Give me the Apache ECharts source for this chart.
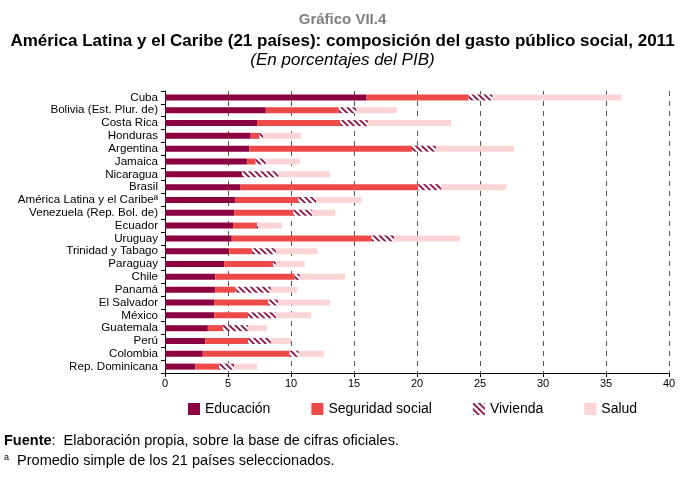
<!DOCTYPE html>
<html>
<head>
<meta charset="utf-8">
<script src="https://cdn.jsdelivr.net/npm/echarts@6/dist/echarts.min.js"></script>
<style>
  html, body { margin: 0; padding: 0; background: #fff; }
  #chart { width: 685px; height: 479px; }
</style>
</head>
<body>
<div id="chart"></div>
<script>
// datos (porcentajes del PIB)
const categories = ['Cuba', 'Bolivia (Est. Plur. de)', 'Costa Rica', 'Honduras', 'Argentina', 'Jamaica',
    'Nicaragua', 'Brasil', 'América Latina y el Caribeª', 'Venezuela (Rep. Bol. de)', 'Ecuador', 'Uruguay',
    'Trinidad y Tabago', 'Paraguay', 'Chile', 'Panamá', 'El Salvador', 'México', 'Guatemala', 'Perú',
    'Colombia', 'Rep. Dominicana'];
const educacion = [16.0, 8.0, 7.3, 6.8, 6.7, 6.5, 6.1, 6.0, 5.6, 5.5, 5.4, 5.3, 5.1, 4.7, 4.0, 4.0, 3.9, 3.9, 3.4, 3.2, 3.0, 2.4];
const seguridad = [8.1, 5.8, 6.6, 0.7, 12.9, 0.7, 0.0, 14.1, 5.0, 4.7, 1.9, 11.1, 1.8, 3.9, 6.3, 1.6, 4.3, 2.7, 1.2, 3.4, 6.9, 1.9];
const vivienda = [1.9, 1.4, 2.2, 0.3, 1.9, 0.8, 2.9, 1.8, 1.4, 1.5, 0.1, 1.8, 1.9, 0.2, 0.4, 2.8, 0.8, 2.2, 2.0, 1.8, 0.7, 1.2];
const salud = [10.2, 3.2, 6.6, 3.0, 6.2, 2.7, 4.1, 5.2, 3.6, 1.8, 1.9, 5.2, 3.3, 2.3, 3.6, 2.1, 4.1, 2.8, 1.5, 1.6, 2.0, 1.8];
const xTicks = [0, 5, 10, 15, 20, 25, 30, 35, 40];

const colEdu = '#8a0041';
const colSeg = '#ef4a4a';
const colSal = '#fcd4d4';

// trama diagonal para vivienda
function hatch() {
    const c = document.createElement('canvas');
    c.width = 6;
    c.height = 6;
    const ctx = c.getContext('2d');
    ctx.fillStyle = '#fff';
    ctx.fillRect(0, 0, 6, 6);
    ctx.strokeStyle = colEdu;
    ctx.lineWidth = 1.6;
    for (let k = -1; k <= 1; k++) {
        ctx.beginPath();
        ctx.moveTo(-1, -1 + 6 * k);
        ctx.lineTo(7, 7 + 6 * k);
        ctx.stroke();
    }
    return c;
}

const font = 'Liberation Sans, Arial, sans-serif';
let myChart = echarts.init(document.getElementById('chart'));

function serie(name, data, color) {
    return {
        name: name,
        type: 'bar',
        stack: 'total',
        barWidth: 6,
        data: data,
        itemStyle: { color: color },
        emphasis: { disabled: true }
    };
}

myChart.setOption({
    animation: false,
    textStyle: { fontFamily: font },
    title: [
        {
            text: 'Gráfico VII.4', left: 'center', top: 7,
            textStyle: { color: '#808080', fontSize: 15, fontWeight: 'bold', fontFamily: font }
        },
        {
            text: 'América Latina y el Caribe (21 países): composición del gasto público social, 2011',
            left: 'center', top: 28,
            textStyle: { color: '#000', fontSize: 17, fontWeight: 'bold', fontFamily: font }
        },
        {
            text: '(En porcentajes del PIB)', left: 'center', top: 47,
            textStyle: { color: '#000', fontSize: 17, fontWeight: 'normal', fontStyle: 'italic', fontFamily: font }
        }
    ],
    grid: { left: 165, right: 16, top: 91, bottom: 106 },
    legend: {
        left: 183, top: 397,
        itemWidth: 12, itemHeight: 12, itemGap: 41,
        icon: 'rect',
        textStyle: { fontSize: 14, color: '#000', fontFamily: font },
        selectedMode: false,
        data: ['Educación', 'Seguridad social', 'Vivienda', 'Salud']
    },
    xAxis: {
        type: 'value',
        min: xTicks[0],
        max: xTicks[xTicks.length - 1],
        interval: 5,
        axisLine: { show: true, lineStyle: { color: '#000', width: 1 } },
        axisTick: { show: true, length: 4, lineStyle: { color: '#000' } },
        axisLabel: { color: '#000', fontSize: 11, margin: 5, fontFamily: font },
        splitLine: { show: true, lineStyle: { color: '#555', type: [5, 5], width: 1 } }
    },
    yAxis: {
        type: 'category',
        inverse: true,
        data: categories,
        axisLine: { show: true, lineStyle: { color: '#000', width: 1 } },
        axisTick: { show: true, length: 4, lineStyle: { color: '#000' } },
        axisLabel: { color: '#000', fontSize: 11.6, margin: 7, interval: 0, fontFamily: font },
        splitLine: { show: false }
    },
    series: [
        serie('Educación', educacion, colEdu),
        serie('Seguridad social', seguridad, colSeg),
        serie('Vivienda', vivienda, { image: hatch(), repeat: 'repeat' }),
        serie('Salud', salud, colSal)
    ],
    graphic: [
        {
            type: 'text', left: 4, top: 433,
            style: {
                text: '{b|Fuente}:  Elaboración propia, sobre la base de cifras oficiales.',
                font: '14.5px ' + font, fill: '#000',
                rich: { b: { fontWeight: 'bold', fontSize: 14.5, fontFamily: font } }
            }
        },
        {
            type: 'text', left: 4, top: 453,
            style: {
                text: '{s|a}  Promedio simple de los 21 países seleccionados.',
                font: '14.5px ' + font, fill: '#000',
                rich: { s: { fontSize: 9, verticalAlign: 'top', padding: [0, 0, 6, 0], fontFamily: font } }
            }
        }
    ]
});
</script>
</body>
</html>
